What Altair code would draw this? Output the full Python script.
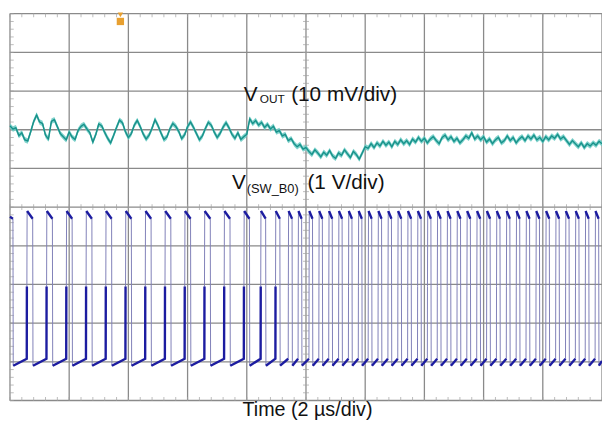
import altair as alt
import pandas as pd
import numpy as np

# ---------------- data (read from the scope capture) ----------------
# Time base: 2 us/div, 10 divisions -> 0..20 us
x_grid_us = [0, 2, 4, 6, 8, 10, 12, 14, 16, 18, 20]
y_grid_div = [0, 1, 2, 3, 4, 5, 6, 7, 8, 9, 10]

# VOUT (AC part, mV) sampled every 0.1 us, 10 mV/div, centred on division 7
vout_step_us = 0.1
vout_mv = [
    1.0, 0.2, 0.5, -1.5, -0.8, -2.6, -2.9, -0.5, 2.1, 3.8,
    2.0, 1.6, -1.4, -2.4, 2.2, 2.6, 0.8, -1.0, -1.8, -2.6,
    -0.6, -1.9, -2.5, -0.2, 0.9, 1.4, 0.2, -0.8, -3.2, -1.2,
    1.5, 1.0, -0.7, -2.2, -3.4, -1.5, 0.6, 2.5, 1.8, -0.5,
    -2.0, -1.0, 1.2, 2.4, 0.8, -1.1, -2.4, -1.4, 0.4, 2.6,
    1.1, -0.8, -2.5, -1.9, 0.2, 1.6, 0.9, -0.4, -2.3, -1.3,
    0.8, 2.0, 0.6, -1.0, -2.6, -1.6, 0.3, 1.9, 1.2, -0.6,
    -2.0, -0.9, 0.7, 1.8, 0.5, -1.2, -2.2, -0.8, -2.5, -1.8,
    -1.2,
    2.8, 1.6, 2.4, 1.2, 1.9, 0.6, 1.4, 0.2, 0.9, -0.6,
    -0.2, -1.6, -1.2, -2.8, -2.3, -3.6, -4.4, -3.8, -5.0, -4.6,
    -5.6, -6.4, -5.2, -6.0, -7.0, -5.8, -6.6, -5.4, -6.8, -7.4,
    -6.0, -6.6, -5.2, -6.2, -7.2, -5.6, -6.4, -7.6, -6.0, -4.4,
    -4.8, -3.6, -4.6, -3.4, -4.2, -3.0, -4.0, -3.2, -4.4, -3.0,
    -3.8, -2.6, -3.6, -2.8, -3.8, -2.4, -3.2,
    -2.0, -3.0, -2.2, -3.4, -2.4, -1.8, -2.8, -3.6, -2.0, -1.4,
    -2.6, -1.8, -3.0, -2.2, -3.4, -2.6, -1.6, -2.2, -0.8, -2.4,
    -1.6, -2.6, -1.8, -3.2, -2.4, -3.6, -2.6, -2.0, -3.4, -2.8,
    -1.6, -2.8, -2.0, -3.4, -2.4, -1.8, -2.8, -1.6, -2.4, -1.4,
    -2.6, -2.0, -3.0, -1.8, -2.6, -1.6, -2.2, -1.2, -2.4, -1.8,
    -2.8, -3.8, -2.8, -3.6, -4.4, -3.4, -4.6, -3.6, -4.2, -3.4,
    -4.0, -3.0, -3.6,
]
vout_center_div = 7.0
vout_mv_per_div = 10.0
vout_noise_mv = 0.7  # half width of the fuzzy trace band

# Switch node V(SW_B0), 1 V/div, 0 V on division 1
sw_zero_div = 1.0
sw_first_fall_us = 0.1
sw_rise_us = [
    0.567, 1.233, 1.900, 2.567, 3.233, 3.900, 4.567, 5.233, 5.900, 6.567,
    7.233, 7.900, 8.467, 8.967, 9.400, 9.733, 10.100, 10.433, 10.767, 11.100,
    11.433, 11.767, 12.100, 12.433, 12.767, 13.100, 13.433, 13.767, 14.100, 14.433,
    14.767, 15.100, 15.433, 15.767, 16.100, 16.433, 16.767, 17.100, 17.433, 17.767,
    18.100, 18.433, 18.767, 19.100, 19.433, 19.767,
]
sw_high_us = [
    0.20, 0.20, 0.20, 0.20, 0.20, 0.20, 0.20, 0.20, 0.20, 0.20,
    0.20, 0.19, 0.17, 0.15, 0.13, 0.12, 0.12, 0.12, 0.12, 0.12,
    0.12, 0.12, 0.12, 0.12, 0.12, 0.12, 0.12, 0.12, 0.12, 0.12,
    0.12, 0.12, 0.12, 0.12, 0.12, 0.12, 0.12, 0.12, 0.12, 0.12,
    0.12, 0.12, 0.12, 0.12, 0.12, 0.12,
]
sw_low_start_v = -0.10
sw_low_end_v = 0.08
sw_mid_v = 1.95
sw_high_start_v = 3.90
sw_high_end_v = 3.70

labels_text = ["V", "OUT", "(10 mV/div)", "V", "(SW_B0)", "(1 V/div)"]
labels_t = [7.9, 8.44, 9.5, 7.5, 8.0, 10.05]
labels_div = [7.755, 7.68, 7.755, 5.46, 5.36, 5.46]
labels_size = [21, 12, 21, 21, 13, 21]

xtitle = "Time (2 µs/div)"
trigger_t = 3.73

# ---------------- build tables ----------------
vout_df = pd.DataFrame({
    "t": np.round(np.arange(len(vout_mv)) * vout_step_us, 3),
    "mv": vout_mv,
})
vout_df["div"] = vout_center_div + vout_df["mv"] / vout_mv_per_div
vout_df["lo"] = vout_df["div"] - vout_noise_mv / vout_mv_per_div
vout_df["hi"] = vout_df["div"] + vout_noise_mv / vout_mv_per_div

full = [(0.0, sw_high_end_v + 0.05), (sw_first_fall_us, sw_high_end_v)]
dark = [(0.0, sw_high_end_v + 0.05, 0), (sw_first_fall_us, sw_high_end_v, 0)]
seg = 1
prev_fall = sw_first_fall_us
for r, h in zip(sw_rise_us, sw_high_us):
    full += [(prev_fall + 0.01, sw_low_start_v), (r, sw_low_end_v),
             (r + 0.004, sw_mid_v), (r + 0.012, sw_high_start_v),
             (r + h, sw_high_end_v)]
    dark += [(prev_fall + 0.01, sw_low_start_v, seg), (r, sw_low_end_v, seg)]
    if h >= 0.15:
        dark += [(r + 0.004, sw_mid_v, seg)]
    seg += 1
    dark += [(r + 0.012, sw_high_start_v, seg), (r + h, sw_high_end_v, seg)]
    seg += 1
    prev_fall = r + h
full += [(prev_fall + 0.01, sw_low_start_v), (20.0, sw_low_end_v * 0.3)]
dark += [(prev_fall + 0.01, sw_low_start_v, seg), (20.0, sw_low_end_v * 0.3, seg)]

sw_full = pd.DataFrame(full, columns=["t", "v"])
sw_full["div"] = sw_zero_div + sw_full["v"]
sw_full["i"] = np.arange(len(sw_full))
sw_dark = pd.DataFrame(dark, columns=["t", "v", "seg"])
sw_dark["div"] = sw_zero_div + sw_dark["v"]
sw_dark["i"] = np.arange(len(sw_dark))

xs = alt.Scale(domain=[0, 20], nice=False, zero=False)
ys = alt.Scale(domain=[0, 10], nice=False, zero=False)
X = lambda f: alt.X(f, type="quantitative", scale=xs, axis=None)
Y = lambda f: alt.Y(f, type="quantitative", scale=ys, axis=None)

grid_col = "#8a8a8a"
vgrid = alt.Chart(pd.DataFrame({"t": x_grid_us})).mark_rule(
    color=grid_col, strokeWidth=1.3).encode(
    x=X("t"), y=alt.value(0), y2=alt.value(392))
hgrid = alt.Chart(pd.DataFrame({"d": y_grid_div})).mark_rule(
    color=grid_col, strokeWidth=1.3).encode(
    y=Y("d"), x=alt.value(0), x2=alt.value(600))

# minor ticks (5 per division) on the frame and centre lines
minor_t = [round(k * 0.4, 2) for k in range(51)]
minor_d = [round(k * 0.2, 2) for k in range(51)]
tick_col = "#a0a0a0"
top_ticks = alt.Chart(pd.DataFrame({"t": minor_t, "d": [9.96] * 51})).mark_tick(
    orient="vertical", size=4, thickness=1, color=tick_col).encode(x=X("t"), y=Y("d"))
bot_ticks = alt.Chart(pd.DataFrame({"t": minor_t, "d": [0.04] * 51})).mark_tick(
    orient="vertical", size=4, thickness=1, color=tick_col).encode(x=X("t"), y=Y("d"))
hc_ticks = alt.Chart(pd.DataFrame({"t": minor_t, "d": [5.0] * 51})).mark_tick(
    orient="vertical", size=6, thickness=1, color=tick_col).encode(x=X("t"), y=Y("d"))
left_ticks = alt.Chart(pd.DataFrame({"t": [0.06] * 51, "d": minor_d})).mark_tick(
    orient="horizontal", size=4, thickness=1, color=tick_col).encode(x=X("t"), y=Y("d"))
vc_ticks = alt.Chart(pd.DataFrame({"t": [10.0] * 51, "d": minor_d})).mark_tick(
    orient="horizontal", size=6, thickness=1, color=tick_col).encode(x=X("t"), y=Y("d"))

sw_light = alt.Chart(sw_full).mark_line(color="#8080b8", strokeWidth=1).encode(
    x=X("t"), y=Y("div"), order="i:Q")
sw_dark_l = alt.Chart(sw_dark).mark_line(color="#1c1ca0", strokeWidth=2.4).encode(
    x=X("t"), y=Y("div"), detail="seg:N", order="i:Q")

vout_area = alt.Chart(vout_df).mark_area(color="#6ccac3", opacity=0.85).encode(
    x=X("t"), y=Y("lo"), y2=alt.Y2("hi"))
vout_band = alt.Chart(vout_df).mark_line(color="#2aa9a1", strokeWidth=1.6).encode(
    x=X("t"), y=Y("div"))
vout_core = alt.Chart(vout_df).mark_line(color="#157d77", strokeWidth=0.7).encode(
    x=X("t"), y=Y("div"))

lab_df = pd.DataFrame({"txt": labels_text, "t": labels_t, "d": labels_div, "s": labels_size})
labels = alt.Chart(lab_df).mark_text(
    align="left", baseline="alphabetic", font="Liberation Sans", color="#111").encode(
    x=X("t"), y=Y("d"), text="txt:N",
    size=alt.Size("s:Q", scale=None, legend=None))

xt = alt.Chart(pd.DataFrame({"txt": [xtitle], "t": [10.05], "d": [-0.4]})).mark_text(
    align="center", baseline="alphabetic", font="Liberation Sans", fontSize=20,
    color="#111").encode(x=X("t"), y=Y("d"), text="txt:N")

trig = alt.Chart(pd.DataFrame({"t": [trigger_t], "d": [9.8]})).mark_point(
    shape="square", filled=True, size=55, color="#e8a030", opacity=1).encode(
    x=X("t"), y=Y("d"))
trig_top = alt.Chart(pd.DataFrame({"t": [trigger_t], "d": [9.97]})).mark_point(
    shape="triangle-down", filled=True, size=30, color="#e8a030", opacity=1).encode(
    x=X("t"), y=Y("d"))

chart = alt.layer(
    vgrid, hgrid, top_ticks, bot_ticks, hc_ticks, left_ticks, vc_ticks,
    sw_light, sw_dark_l, vout_area, vout_band, vout_core, labels, xt, trig, trig_top,
).properties(
    width=600, height=392,
    padding={"left": 2, "top": 3, "right": 0, "bottom": 21},
    autosize=alt.AutoSizeParams(type="none"),
    background="white",
).configure_view(stroke=None)

chart.save("out.html", embed_options={"renderer": "svg", "actions": False})
